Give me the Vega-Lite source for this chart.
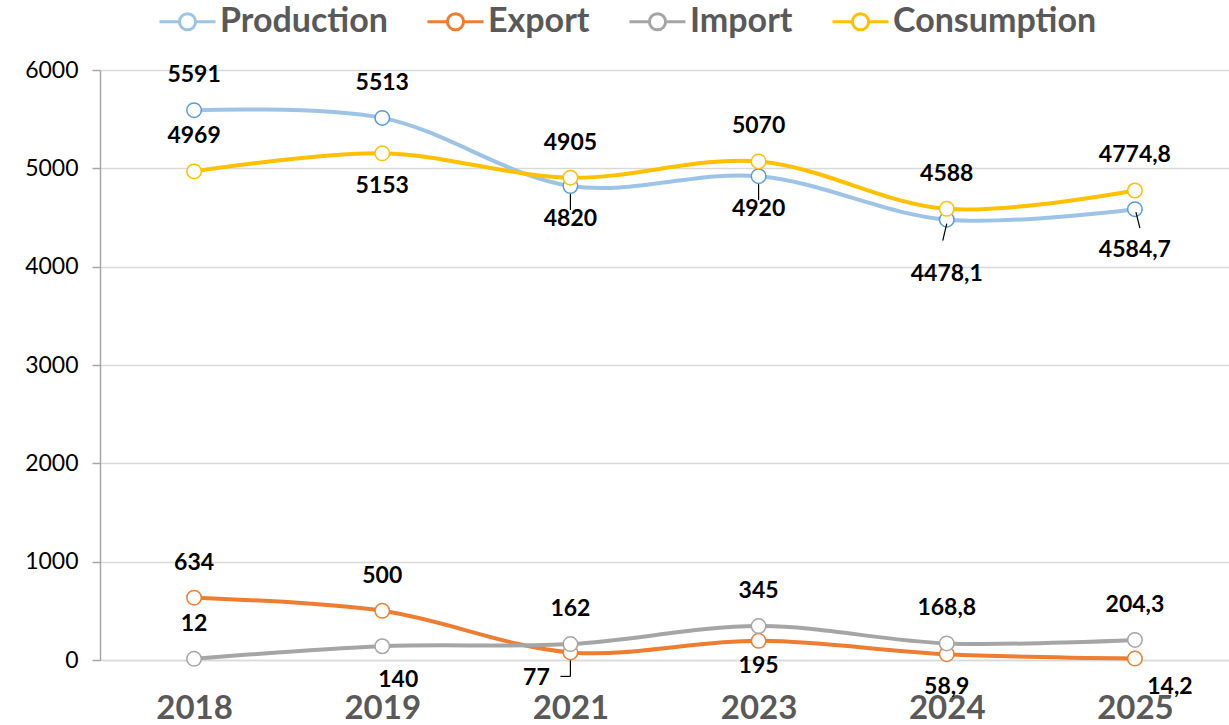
{
  "$schema": "https://vega.github.io/schema/vega-lite/v6.json",
  "width": 1129,
  "height": 590,
  "autosize": {"type": "none"},
  "padding": {"left": 100, "top": 70, "right": 0, "bottom": 65},
  "background": "white",
  "config": {
    "view": {"stroke": null},
    "font": "Lato",
    "locale": {"number": {"decimal": ",", "thousands": ".", "grouping": [3], "currency": ["", ""]}}
  },
  "data": {
    "values": [
      {"series": "Production", "year": "2018", "value": 5591},
      {"series": "Production", "year": "2019", "value": 5513},
      {"series": "Production", "year": "2021", "value": 4820},
      {"series": "Production", "year": "2023", "value": 4920},
      {"series": "Production", "year": "2024", "value": 4478.1},
      {"series": "Production", "year": "2025", "value": 4584.7},
      {"series": "Export", "year": "2018", "value": 634},
      {"series": "Export", "year": "2019", "value": 500},
      {"series": "Export", "year": "2021", "value": 77},
      {"series": "Export", "year": "2023", "value": 195},
      {"series": "Export", "year": "2024", "value": 58.9},
      {"series": "Export", "year": "2025", "value": 14.2},
      {"series": "Import", "year": "2018", "value": 12},
      {"series": "Import", "year": "2019", "value": 140},
      {"series": "Import", "year": "2021", "value": 162},
      {"series": "Import", "year": "2023", "value": 345},
      {"series": "Import", "year": "2024", "value": 168.8},
      {"series": "Import", "year": "2025", "value": 204.3},
      {"series": "Consumption", "year": "2018", "value": 4969},
      {"series": "Consumption", "year": "2019", "value": 5153},
      {"series": "Consumption", "year": "2021", "value": 4905},
      {"series": "Consumption", "year": "2023", "value": 5070},
      {"series": "Consumption", "year": "2024", "value": 4588},
      {"series": "Consumption", "year": "2025", "value": 4774.8}
    ]
  },
  "encoding": {
    "x": {
      "field": "year", "type": "ordinal",
      "scale": {"type": "point", "padding": 0.5},
      "axis": {
        "title": null, "labelAngle": 0, "ticks": false,
        "domain": true, "domainColor": "#D9D9D9", "domainWidth": 1.5,
        "labelFont": "Lato", "labelFontSize": 33, "labelFontWeight": "bold",
        "labelColor": "#595959", "labelPadding": 32, "grid": false
      }
    },
    "y": {
      "field": "value", "type": "quantitative",
      "scale": {"domain": [0, 6000], "nice": false},
      "axis": {
        "title": null, "values": [0, 1000, 2000, 3000, 4000, 5000, 6000],
        "format": "d", "labelFont": "Lato", "labelFontSize": 23, "labelColor": "#000000",
        "labelPadding": 14, "tickSize": 8, "tickColor": "#A6A6A6", "tickWidth": 1.5,
        "domainColor": "#A6A6A6", "domainWidth": 1.5,
        "grid": true, "gridColor": "#D9D9D9", "gridWidth": 1.5
      }
    }
  },
  "layer": [
    {
      "mark": {"type": "line", "interpolate": "catmull-rom", "strokeWidth": 4},
      "encoding": {
        "color": {
          "field": "series", "type": "nominal",
          "scale": {"domain": ["Production", "Export", "Import", "Consumption"], "range": ["#9DC3E6", "#ED7D31", "#A5A5A5", "#FFC000"]},
          "legend": {
            "title": null, "orient": "none", "direction": "horizontal",
            "legendX": 58, "legendY": -78,
            "symbolType": "M-1,0L-0.29,0M0.29,0L1,0M-0.29,0A0.29,0.29 0 1,0 0.29,0A0.29,0.29 0 1,0 -0.29,0",
            "symbolSize": 3136, "symbolStrokeWidth": 3, "symbolFillColor": "white",
            "labelFont": "Lato", "labelFontSize": 34, "labelFontWeight": "bold", "labelColor": "#595959",
            "labelOffset": 3, "columnPadding": 33, "labelLimit": 400
          }
        },
        "order": {"field": "year"}
      }
    },
    {
      "mark": {"type": "point", "shape": "circle", "filled": false, "fill": "white", "fillOpacity": 1, "opacity": 1, "size": 210, "strokeWidth": 1.5},
      "encoding": {
        "stroke": {
          "field": "series", "type": "nominal",
          "scale": {"domain": ["Production", "Export", "Import", "Consumption"], "range": ["#5B9BD5", "#ED7D31", "#A5A5A5", "#FFC000"]},
          "legend": null
        }
      }
    },
    {
      "transform": [{"filter": "(datum.series == 'Production' && (datum.year == '2021' || datum.year == '2023')) || (datum.series == 'Export' && datum.year == '2021')"}],
      "mark": {"type": "rule", "color": "black", "strokeWidth": 1.2, "yOffset": 8, "y2Offset": 24},
      "encoding": {"y2": {"field": "value"}}
    },
    {
      "transform": [{"filter": "datum.series == 'Production' && datum.year == '2024'"}],
      "mark": {"type": "rule", "color": "black", "strokeWidth": 1.2, "yOffset": 4, "y2Offset": 21, "xOffset": 0, "x2Offset": -4},
      "encoding": {"y2": {"field": "value"}, "x2": {"field": "year"}}
    },
    {
      "transform": [{"filter": "datum.series == 'Production' && datum.year == '2025'"}],
      "mark": {"type": "rule", "color": "black", "strokeWidth": 1.2, "yOffset": 3, "y2Offset": 19, "xOffset": 1, "x2Offset": 5},
      "encoding": {"y2": {"field": "value"}, "x2": {"field": "year"}}
    },
    {
      "transform": [{"filter": "datum.series == 'Export' && datum.year == '2021'"}],
      "mark": {"type": "rule", "color": "black", "strokeWidth": 1.2, "yOffset": 24, "xOffset": -10, "x2Offset": 0},
      "encoding": {"x2": {"field": "year"}}
    },
    {
      "transform": [{"filter": "indexof(['Production|2018','Production|2019','Export|2018','Export|2019','Import|2018','Import|2021','Import|2023','Import|2024','Import|2025','Consumption|2018','Consumption|2021','Consumption|2023','Consumption|2024','Consumption|2025'], datum.series + '|' + datum.year) >= 0"}],
      "mark": {"type": "text", "dy": -35, "font": "Lato", "fontSize": 23, "fontWeight": "bold", "color": "black", "baseline": "middle"},
      "encoding": {"text": {"field": "value", "type": "quantitative", "format": "~g"}}
    },
    {
      "transform": [{"filter": "indexof(['Production|2021','Production|2023','Export|2024','Consumption|2019'], datum.series + '|' + datum.year) >= 0"}],
      "mark": {"type": "text", "dy": 33, "font": "Lato", "fontSize": 23, "fontWeight": "bold", "color": "black", "baseline": "middle"},
      "encoding": {"text": {"field": "value", "type": "quantitative", "format": "~g"}}
    },
    {
      "transform": [{"filter": "datum.series == 'Export' && datum.year == '2023'"}],
      "mark": {"type": "text", "dy": 25, "font": "Lato", "fontSize": 23, "fontWeight": "bold", "color": "black", "baseline": "middle"},
      "encoding": {"text": {"field": "value", "type": "quantitative", "format": "~g"}}
    },
    {
      "transform": [{"filter": "datum.series == 'Import' && datum.year == '2019'"}],
      "mark": {"type": "text", "dx": 16, "dy": 34, "font": "Lato", "fontSize": 23, "fontWeight": "bold", "color": "black", "baseline": "middle"},
      "encoding": {"text": {"field": "value", "type": "quantitative", "format": "~g"}}
    },
    {
      "transform": [{"filter": "datum.series == 'Production' && datum.year == '2024'"}],
      "mark": {"type": "text", "dy": 54, "font": "Lato", "fontSize": 23, "fontWeight": "bold", "color": "black", "baseline": "middle"},
      "encoding": {"text": {"field": "value", "type": "quantitative", "format": "~g"}}
    },
    {
      "transform": [{"filter": "datum.series == 'Production' && datum.year == '2025'"}],
      "mark": {"type": "text", "dy": 41, "font": "Lato", "fontSize": 23, "fontWeight": "bold", "color": "black", "baseline": "middle"},
      "encoding": {"text": {"field": "value", "type": "quantitative", "format": "~g"}}
    },
    {
      "transform": [{"filter": "datum.series == 'Export' && datum.year == '2021'"}],
      "mark": {"type": "text", "dx": -34, "dy": 26, "font": "Lato", "fontSize": 23, "fontWeight": "bold", "color": "black", "baseline": "middle"},
      "encoding": {"text": {"field": "value", "type": "quantitative", "format": "~g"}}
    },
    {
      "transform": [{"filter": "datum.series == 'Export' && datum.year == '2025'"}],
      "mark": {"type": "text", "dx": 35, "dy": 28, "font": "Lato", "fontSize": 23, "fontWeight": "bold", "color": "black", "baseline": "middle"},
      "encoding": {"text": {"field": "value", "type": "quantitative", "format": "~g"}}
    }
  ]
}
